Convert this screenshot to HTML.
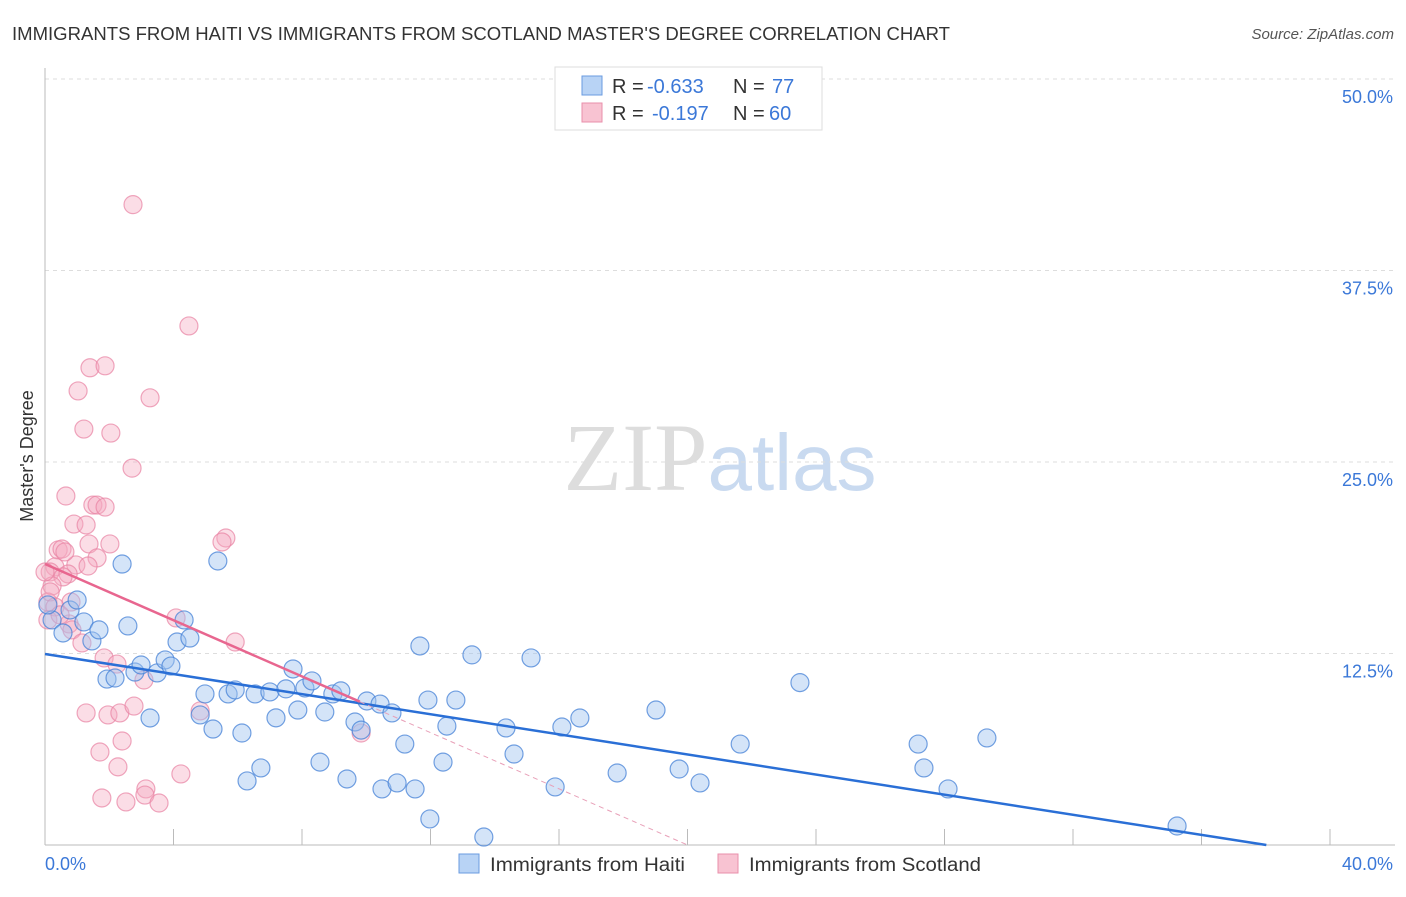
<!DOCTYPE html>
<html><head><meta charset="utf-8"><style>
body{margin:0;background:#fff;font-family:"Liberation Sans",sans-serif;}
</style></head><body>
<svg id="chart" width="1406" height="892" xmlns="http://www.w3.org/2000/svg" font-family="Liberation Sans, sans-serif">
<text x="12" y="40" font-size="18" fill="#333" textLength="938" lengthAdjust="spacingAndGlyphs">IMMIGRANTS FROM HAITI VS IMMIGRANTS FROM SCOTLAND MASTER'S DEGREE CORRELATION CHART</text>
<text x="1394" y="39" font-size="15" fill="#555" font-style="italic" text-anchor="end">Source: ZipAtlas.com</text>
<text x="720" y="490" font-size="96" text-anchor="middle"><tspan fill="#ddd" font-family="Liberation Serif, serif">ZIP</tspan><tspan fill="#c9daf0" font-size="80">atlas</tspan></text>
<text transform="translate(33,456) rotate(-90)" font-size="18" fill="#333" text-anchor="middle">Master's Degree</text>
<g id="grid"></g><g id="axes"></g><g id="marks"></g>
<g>
<rect x="555" y="67" width="267" height="63" fill="#fff" stroke="#ddd"/>
<rect x="582" y="76" width="20" height="19" fill="#b8d3f5" stroke="#6a9be0"/>
<rect x="582" y="103" width="20" height="19" fill="#f8c3d2" stroke="#e98fab"/>
<text x="612" y="93" font-size="20" fill="#333">R =</text>
<text x="647" y="93" font-size="20" fill="#3b78d8">-0.633</text>
<text x="733" y="93" font-size="20" fill="#333">N =</text>
<text x="772" y="93" font-size="20" fill="#3b78d8">77</text>
<text x="612" y="120" font-size="20" fill="#333">R =</text>
<text x="652" y="120" font-size="20" fill="#3b78d8">-0.197</text>
<text x="733" y="120" font-size="20" fill="#333">N =</text>
<text x="769" y="120" font-size="20" fill="#3b78d8">60</text>
</g>
<g>
<rect x="459" y="854" width="20" height="19" fill="#b8d3f5" stroke="#6a9be0"/>
<text x="490" y="871" font-size="19" fill="#333" textLength="195" lengthAdjust="spacingAndGlyphs">Immigrants from Haiti</text>
<rect x="718" y="854" width="20" height="19" fill="#f8c3d2" stroke="#e98fab"/>
<text x="749" y="871" font-size="19" fill="#333" textLength="232" lengthAdjust="spacingAndGlyphs">Immigrants from Scotland</text>
</g>
</svg>
<script>
const yTicks=[12.5,25,37.5,50];
const yTickLabels=["12.5%","25.0%","37.5%","50.0%"];
const xTickCount=[0,4,8,12,16,20,24,28,32,36,40];
const xEndLabels=["0.0%","40.0%"];
const haitiX=[0.22,0.56,0.78,1.0,1.21,1.46,1.68,1.93,2.18,2.4,2.58,2.8,2.99,3.27,3.49,3.74,3.92,4.11,4.33,4.51,4.83,4.98,5.23,5.38,5.7,5.92,6.13,6.29,6.54,6.72,7.0,7.19,7.5,7.72,7.87,8.09,8.31,8.56,8.71,8.96,9.21,9.4,9.65,9.84,10.02,10.49,10.43,10.8,10.96,11.2,11.52,11.67,11.92,11.98,12.39,12.51,12.79,13.29,13.66,14.35,14.6,15.13,15.88,16.09,16.65,17.81,19.02,19.74,20.39,21.64,23.5,27.18,27.36,28.11,29.32,35.24,0.09];
const haitiY=[14.69,13.84,15.34,15.99,14.56,13.32,14.04,10.83,10.9,18.34,14.3,11.29,11.75,8.29,11.23,12.08,11.68,13.25,14.69,13.51,8.49,9.86,7.57,18.54,9.86,10.12,7.31,4.18,9.86,5.03,9.99,8.3,10.19,11.49,8.81,10.25,10.71,5.41,8.68,9.86,10.06,4.31,8.03,7.5,9.4,3.66,9.2,8.62,4.05,6.59,3.66,12.99,9.46,1.7,5.41,7.76,9.46,12.41,0.52,7.64,5.94,12.21,3.79,7.7,8.29,4.7,8.81,4.96,4.05,6.59,10.6,6.59,5.03,3.66,6.99,1.24,15.67];
const scotX=[2.74,4.48,1.4,1.87,3.27,1.03,1.21,2.05,2.71,0.65,1.49,1.62,1.87,0.9,1.28,5.63,5.51,1.37,2.02,0.41,0.53,1.62,0.96,0.31,1.34,0.16,0.72,0.56,0.22,0.09,0.81,0.75,0.84,1.15,1.84,2.24,5.92,4.08,3.08,1.28,1.96,2.33,2.77,4.83,9.84,1.71,2.4,2.27,4.23,1.77,2.52,3.14,3.11,3.55,0.16,0.31,0.09,0.47,0.0,0.62];
const scotY=[41.8,33.88,31.15,31.28,29.19,29.64,27.15,26.89,24.6,22.78,22.19,22.19,22.06,20.95,20.89,20.04,19.78,19.65,19.65,19.26,19.32,18.74,18.28,18.15,18.21,17.82,17.69,17.5,16.91,15.86,15.86,14.43,14.04,13.19,12.21,11.81,13.25,14.82,10.77,8.62,8.49,8.62,9.07,8.75,7.31,6.07,6.79,5.1,4.64,3.07,2.81,3.66,3.26,2.74,16.52,15.54,14.69,15.02,17.82,19.13];
const haitiLine=[12.47,-0.328];
const scotLine=[18.34,-0.917];
const NS="http://www.w3.org/2000/svg";
const X=v=>45+v*32.125, Y=v=>845-v*15.32;
function mk(tag,attrs,parent){const e=document.createElementNS(NS,tag);for(const k in attrs)e.setAttribute(k,attrs[k]);document.getElementById(parent).appendChild(e);return e;}
yTicks.forEach((t,i)=>{
 const l=mk('line',{x1:45,x2:1395,y1:Y(t),y2:Y(t),stroke:'#ddd','stroke-dasharray':'4,4'},'grid');
 
 
 const tx=mk('text',{x:1393,y:Y(t)+24,'font-size':18,fill:'#3b78d8','text-anchor':'end'},'axes');tx.textContent=yTickLabels[i];
 
 
});
mk('line',{x1:45,x2:45,y1:68,y2:845,stroke:'#bbb'},'axes');
mk('line',{x1:45,x2:1395,y1:845,y2:845,stroke:'#bbb'},'axes');
xTickCount.forEach(t=>{const l=mk('line',{x1:X(t),x2:X(t),y1:829,y2:845,stroke:'#bbb'},'axes');
 
 });
const a=mk('text',{x:45,y:870,'font-size':18,fill:'#3b78d8'},'axes');a.textContent=xEndLabels[0];


const b=mk('text',{x:1393,y:870,'font-size':18,fill:'#3b78d8','text-anchor':'end'},'axes');b.textContent=xEndLabels[1];


scotX.forEach((x,i)=>{const c=mk('circle',{cx:X(x),cy:Y(scotY[i]),r:9,fill:'rgba(245,170,192,0.4)',stroke:'rgba(232,130,162,0.7)','stroke-width':1.2},'marks');
 
 });
haitiX.forEach((x,i)=>{const c=mk('circle',{cx:X(x),cy:Y(haitiY[i]),r:9,fill:'rgba(160,195,240,0.45)',stroke:'rgba(70,130,215,0.75)','stroke-width':1.2},'marks');
 
 });
const hx2=-haitiLine[0]/haitiLine[1];
const hl=mk('line',{x1:X(0),y1:Y(haitiLine[0]),x2:X(hx2),y2:Y(0),stroke:'#2a6fd6','stroke-width':2.5},'marks');


const sEnd=9.8, sx2=-scotLine[0]/scotLine[1];
const sl=mk('line',{x1:X(0),y1:Y(scotLine[0]),x2:X(sEnd),y2:Y(scotLine[0]+scotLine[1]*sEnd),stroke:'#e8668f','stroke-width':2.5},'marks');


const sd=mk('line',{x1:X(sEnd),y1:Y(scotLine[0]+scotLine[1]*sEnd),x2:X(sx2),y2:Y(0),stroke:'#e8a0b8','stroke-width':1,'stroke-dasharray':'5,4'},'marks');


</script>
</body></html>
